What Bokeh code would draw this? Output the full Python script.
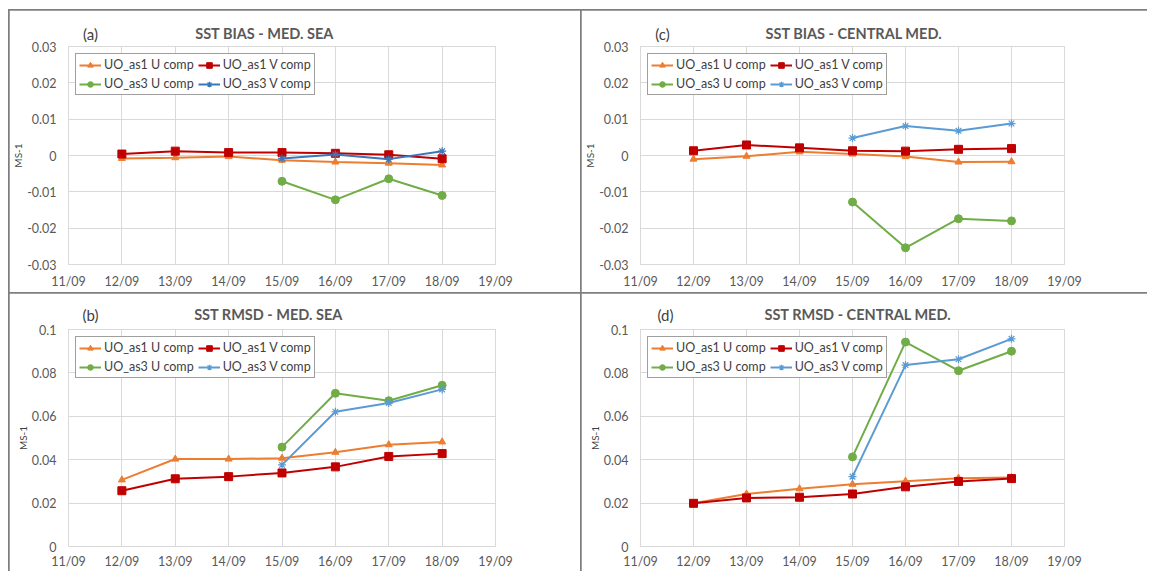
from bokeh.plotting import figure
from bokeh.models import Legend, LegendItem, FixedTicker, Range1d, LinearAxis
from bokeh.layouts import gridplot
from bokeh.embed import file_html
from bokeh.resources import INLINE

# ---------------- data ----------------
x_ticks = [11, 12, 13, 14, 15, 16, 17, 18, 19]
x_labels = ["11/09", "12/09", "13/09", "14/09", "15/09", "16/09", "17/09", "18/09", "19/09"]
days_as1 = [12, 13, 14, 15, 16, 17, 18]
days_as3 = [15, 16, 17, 18]

bias_ticks = [-0.03, -0.02, -0.01, 0, 0.01, 0.02, 0.03]
bias_labels = ["-0.03", "-0.02", "-0.01", "0", "0.01", "0.02", "0.03"]
rmsd_ticks = [0, 0.02, 0.04, 0.06, 0.08, 0.1]
rmsd_labels = ["0", "0.02", "0.04", "0.06", "0.08", "0.1"]

series_names = ["UO_as1 U comp", "UO_as1 V comp", "UO_as3 U comp", "UO_as3 V comp"]

# (a) SST BIAS - MED. SEA
a_as1_u = [-0.0008, -0.0006, -0.0003, -0.0013, -0.0018, -0.0021, -0.0026]
a_as1_v = [0.0004, 0.0012, 0.0008, 0.0008, 0.0006, 0.0002, -0.0009]
a_as3_u = [-0.0071, -0.0122, -0.0064, -0.0110]
a_as3_v = [-0.0008, 0.0003, -0.0010, 0.0012]

# (b) SST RMSD - MED. SEA
b_as1_u = [0.0307, 0.0403, 0.0403, 0.0407, 0.0434, 0.0469, 0.0482]
b_as1_v = [0.0257, 0.0312, 0.0322, 0.0339, 0.0367, 0.0415, 0.0428]
b_as3_u = [0.0458, 0.0706, 0.0672, 0.0743]
b_as3_v = [0.0376, 0.0621, 0.0661, 0.0724]

# (c) SST BIAS - CENTRAL MED.
c_as1_u = [-0.0010, -0.0002, 0.0010, 0.0004, -0.0003, -0.0018, -0.0017]
c_as1_v = [0.0013, 0.0029, 0.0021, 0.0013, 0.0012, 0.0017, 0.0019]
c_as3_u = [-0.0128, -0.0254, -0.0174, -0.0180]
c_as3_v = [0.0048, 0.0081, 0.0068, 0.0088]

# (d) SST RMSD - CENTRAL MED.
d_as1_u = [0.0199, 0.0242, 0.0266, 0.0287, 0.0301, 0.0315, 0.0318]
d_as1_v = [0.0199, 0.0224, 0.0227, 0.0242, 0.0275, 0.0300, 0.0313]
d_as3_u = [0.0413, 0.0942, 0.0810, 0.0900]
d_as3_v = [0.0322, 0.0836, 0.0863, 0.0957]

# ---------------- style ----------------
FONT = "Lato"
ORANGE = "#ED7D31"
RED = "#C00000"
GREEN = "#70AD47"
BLUE = "#5B9BD5"
GRID = "#D9D9D9"
TXT = "#595959"
DARK = "#404040"


def text_axis(ticks, texts, size, style, color, standoff):
    ax = LinearAxis(ticker=FixedTicker(ticks=ticks),
                    major_label_overrides=dict(zip(ticks, texts)),
                    axis_line_color=None, major_tick_line_color=None, minor_tick_line_color=None,
                    major_tick_in=0, major_tick_out=0, minor_tick_in=0, minor_tick_out=0,
                    major_label_text_font=FONT, major_label_text_font_size=size,
                    major_label_text_font_style=style, major_label_text_color=color)
    try:
        ax.major_label_standoff = standoff
    except Exception:
        ax.major_label_standoff = 0
    return ax


def make_panel(tag, title, ticks, labels, ylo, yhi, s1u, s1v, s3u, s3v,
               width, height, bl, br, bt, bb, tag_cx, title_cx, head_dy,
               blue=BLUE, xstand=9):
    fw = width - bl - br
    p = figure(width=width, height=height, output_backend="svg", toolbar_location=None,
               x_range=Range1d(11, 19), y_range=Range1d(ylo, yhi),
               min_border_left=bl, min_border_right=br, min_border_top=bt, min_border_bottom=bb,
               background_fill_color="white", border_fill_color="white",
               outline_line_color=GRID)

    # main axes
    xa = p.xaxis[0]
    ya = p.yaxis[0]
    xa.ticker = FixedTicker(ticks=x_ticks)
    xa.major_label_overrides = dict(zip(x_ticks, x_labels))
    ya.ticker = FixedTicker(ticks=ticks)
    ya.major_label_overrides = dict(zip(ticks, labels))
    for ax in (xa, ya):
        ax.axis_line_color = None
        ax.major_tick_line_color = None
        ax.minor_tick_line_color = None
        ax.major_tick_in = 0
        ax.major_tick_out = 0
        ax.minor_tick_in = 0
        ax.minor_tick_out = 0
        ax.major_label_text_font = FONT
        ax.major_label_text_font_size = "12.5px"
        ax.major_label_text_color = TXT
    xa.major_label_standoff = xstand
    ya.major_label_standoff = 12
    ya.axis_label = "MS-1"
    ya.axis_label_text_font = FONT
    ya.axis_label_text_font_size = "10px"
    ya.axis_label_text_font_style = "normal"
    ya.axis_label_text_color = DARK
    ya.axis_label_standoff = 0

    p.xgrid.ticker = FixedTicker(ticks=x_ticks)
    p.ygrid.ticker = FixedTicker(ticks=ticks)
    p.xgrid.grid_line_color = GRID
    p.ygrid.grid_line_color = GRID

    # series
    lw = 2
    r1l = p.line(days_as1, s1u, line_color=ORANGE, line_width=lw)
    r1m = p.scatter(days_as1, s1u, marker="triangle", size=7, fill_color=ORANGE, line_color=ORANGE)
    r2l = p.line(days_as1, s1v, line_color=RED, line_width=lw)
    r2m = p.scatter(days_as1, s1v, marker="square", size=8, fill_color=RED, line_color=RED)
    r3l = p.line(days_as3, s3u, line_color=GREEN, line_width=lw)
    r3m = p.scatter(days_as3, s3u, marker="circle", size=8, fill_color=GREEN, line_color=GREEN)
    r4l = p.line(days_as3, s3v, line_color=blue, line_width=lw)
    r4m = p.scatter(days_as3, s3v, marker="asterisk", size=8, line_color=blue, line_width=1.2)

    items = [
        LegendItem(label=series_names[0], renderers=[r1l, r1m]),
        LegendItem(label=series_names[2], renderers=[r3l, r3m]),
        LegendItem(label=series_names[1], renderers=[r2l, r2m]),
        LegendItem(label=series_names[3], renderers=[r4l, r4m]),
    ]
    leg = Legend(items=items, location="top_left", orientation="vertical", ncols=2,
                 margin=7, padding=3, spacing=4,
                 glyph_width=22, glyph_height=14, label_height=14, label_width=88,
                 label_standoff=3,
                 label_text_font=FONT, label_text_font_size="12.5px", label_text_color=DARK,
                 border_line_color=DARK, border_line_width=1,
                 background_fill_color="white", background_fill_alpha=1.0)
    p.add_layout(leg, "center")

    # heading: panel tag and chart title as labels of extra axes above the frame
    tag_x = round(11 + tag_cx / fw * 8, 4)
    title_x = round(11 + title_cx / fw * 8, 4)
    tag_ax = text_axis([tag_x], [tag], "15px", "normal", DARK, head_dy - 9)
    p.add_layout(tag_ax, "above")
    title_ax = text_axis([title_x], [title], "14.5px", "bold", TXT, -20)
    p.add_layout(title_ax, "above")
    return p


pa = make_panel("(a)", "SST BIAS - MED. SEA", bias_ticks, bias_labels, -0.03, 0.03,
                a_as1_u, a_as1_v, a_as3_u, a_as3_v,
                571, 282, 59, 85, 36, 28, 22, 196, 13, blue="#3A76B8")
pc = make_panel("(c)", "SST BIAS - CENTRAL MED.", bias_ticks, bias_labels, -0.03, 0.03,
                c_as1_u, c_as1_v, c_as3_u, c_as3_v,
                566, 282, 58, 83, 36, 28, 22, 214, 13)
pb = make_panel("(b)", "SST RMSD - MED. SEA", rmsd_ticks, rmsd_labels, 0, 0.1,
                b_as1_u, b_as1_v, b_as3_u, b_as3_v,
                571, 278, 59, 85, 36, 25, 22, 200, 15, xstand=7)
pd_ = make_panel("(d)", "SST RMSD - CENTRAL MED.", rmsd_ticks, rmsd_labels, 0, 0.1,
                 d_as1_u, d_as1_v, d_as3_u, d_as3_v,
                 566, 278, 58, 83, 36, 25, 25, 218, 15, xstand=7)

g = gridplot([[pa, pc], [pb, pd_]], toolbar_location=None)
g.spacing = 1
g.styles = {"background-color": "#7F7F7F", "border-top": "1px solid #7F7F7F",
            "border-left": "1px solid #7F7F7F", "margin-left": "8px", "margin-top": "9px"}

open("out.html", "w").write(file_html(g, INLINE))
